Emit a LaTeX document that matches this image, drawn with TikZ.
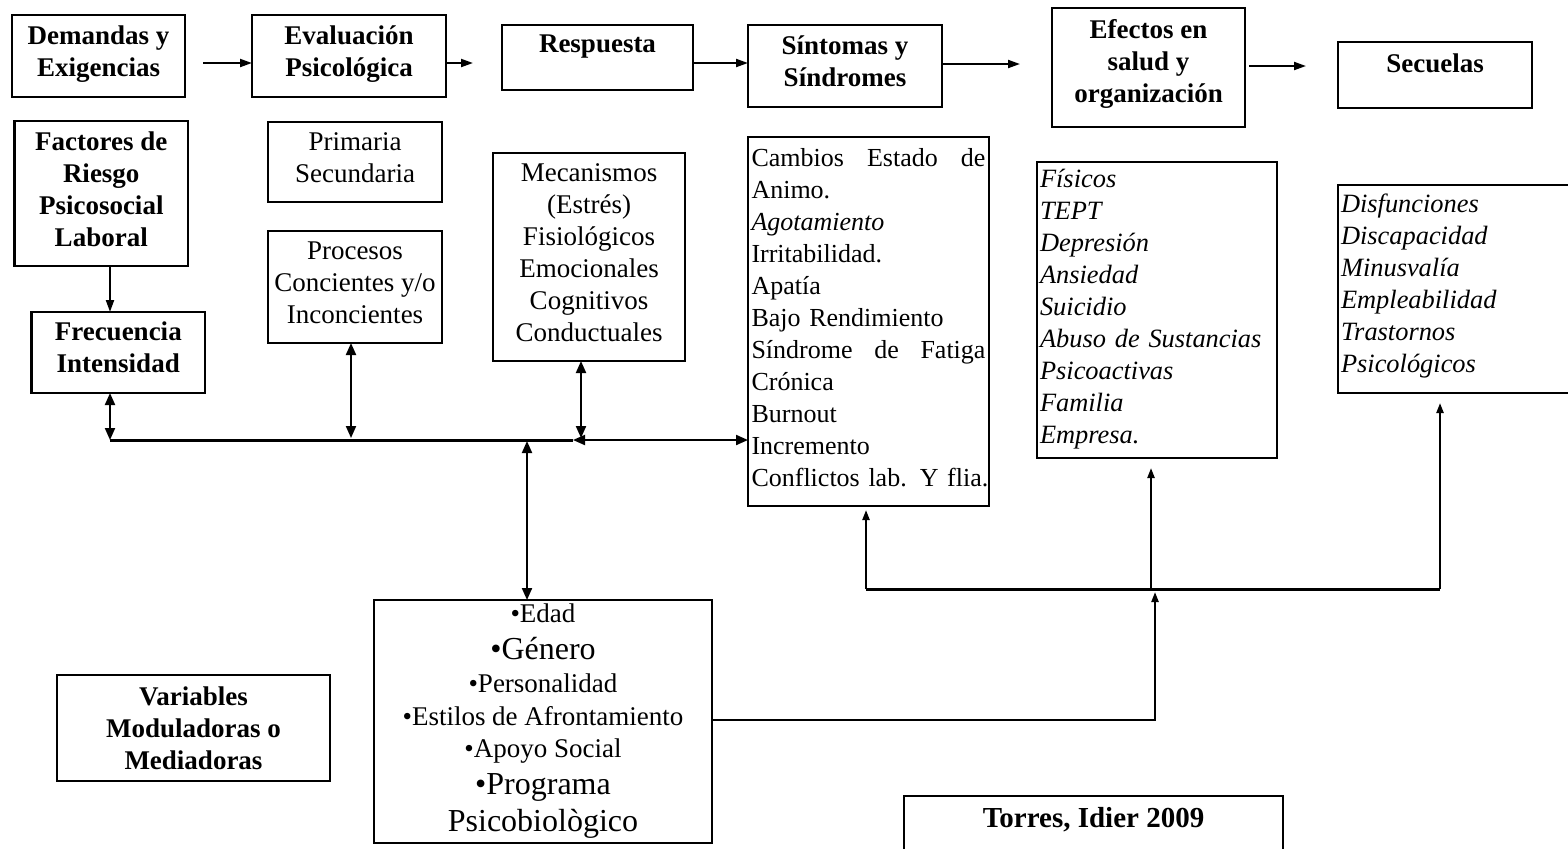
\documentclass[tikz,border=0pt]{standalone}
\usepackage{fontspec}
\setmainfont{Liberation Serif}
\usetikzlibrary{arrows.meta}
\begin{document}
\begin{tikzpicture}[x=0.5pt,y=-0.5pt,
  box/.style={draw, line width=1.3pt, inner sep=0pt, outer sep=0pt, anchor=north west},
  txt/.style={inner sep=0pt, align=center, font=\fontsize{13.5pt}{16pt}\selectfont},
  btxt/.style={txt, font=\fontsize{13.5pt}{16pt}\selectfont\bfseries},
  ltxt/.style={inner sep=0pt, align=left, font=\fontsize{13pt}{16pt}\selectfont},
  itxt/.style={ltxt, font=\fontsize{13.2pt}{16pt}\selectfont\itshape},
  arr/.style={line width=1pt, -{Triangle[length=6pt,width=4pt]}},
  dblarr/.style={line width=1pt, {Triangle[length=6pt,width=5pt]}-{Triangle[length=6pt,width=5pt]}},
  uparr/.style={line width=1.1pt, -{Triangle[length=5pt,width=3.5pt]}},
  busline/.style={line width=1.5pt},
]
\useasboundingbox (0,0) rectangle (1568,848);

% ---- main chain ----
\node[box, minimum width=86.5pt, minimum height=41pt,
  label={[btxt, anchor=center, yshift=-19.5pt]north:{Demandas y\\Exigencias}}] (dem) at (12,15) {};
\node[box, minimum width=97pt, minimum height=41pt,
  label={[btxt, anchor=center, yshift=-19.5pt]north:{Evaluación\\Psicológica}}] (eval) at (252,15) {};
\node[box, minimum width=95.5pt, minimum height=32.5pt,
  label={[btxt, anchor=center, yshift=-11pt]north:{Respuesta}}] (resp) at (502,25) {};
\node[box, minimum width=97pt, minimum height=41pt,
  label={[btxt, anchor=center, yshift=-18.25pt]north:{Síntomas y\\Síndromes}}] (sint) at (748,25) {};
\node[box, minimum width=96.5pt, minimum height=59.5pt,
  label={[btxt, anchor=center, yshift=-28pt]north:{Efectos en\\salud y\\organización}}] (eff) at (1052,8) {};
\node[box, minimum width=97pt, minimum height=33pt,
  label={[btxt, anchor=center, yshift=-10.5pt]north:{Secuelas}}] (sec) at (1338,42) {};

% ---- detail boxes ----
\node[box, minimum width=86.75pt, minimum height=72.5pt,
  label={[btxt, anchor=center, yshift=-34.25pt]north:{Factores de\\Riesgo\\Psicosocial\\Laboral}}] (fact) at (14.5,121) {};
\node[box, minimum width=86.75pt, minimum height=40.5pt,
  label={[btxt, anchor=center, yshift=-17.75pt]north:{Frecuencia\\Intensidad}}] (frec) at (31.5,312) {};
\node[box, minimum width=87pt, minimum height=40pt,
  label={[txt, anchor=center, yshift=-17.75pt]north:{Primaria\\Secundaria}}] (prim) at (268,122) {};
\node[box, minimum width=87pt, minimum height=56pt,
  label={[txt, anchor=center, yshift=-25.8pt]north:{Procesos\\Concientes y/o\\Inconcientes}}] (proc) at (268,231) {};
\node[box, minimum width=96pt, minimum height=104pt,
  label={[txt, anchor=center, yshift=-50pt]north:{Mecanismos\\(Estrés)\\Fisiológicos\\Emocionales\\Cognitivos\\Conductuales}}] (mec) at (493,153) {};

\node[box, minimum width=120.5pt, minimum height=184.5pt,
  label={[ltxt, text width=117pt, anchor=center, yshift=-90.25pt]north:{%
    Cambios\hfill Estado\hfill de\\
    Animo.\\
    \textit{Agotamiento}\\
    Irritabilidad.\\
    Apatía\\
    Bajo Rendimiento\\
    Síndrome\hfill de\hfill Fatiga\\
    Crónica\\
    Burnout\\
    Incremento\\
    \mbox{Conflictos lab. Y flia.}}}] (sintlist) at (748,137) {};
\node[box, minimum width=120pt, minimum height=148pt,
  label={[itxt, text width=117pt, anchor=center, yshift=-73.75pt]north:{%
    Físicos\\TEPT\\Depresión\\Ansiedad\\Suicidio\\Abuso de Sustancias\\Psicoactivas\\Familia\\Empresa.}}] (efflist) at (1037,162) {};
\node[box, minimum width=126pt, minimum height=104pt,
  label={[itxt, text width=123pt, anchor=center, yshift=-50.5pt]north:{%
    Disfunciones\\Discapacidad\\Minusvalía\\Empleabilidad\\Trastornos\\Psicológicos}}] (seclist) at (1338,185) {};

% ---- moderating variables ----
\node[box, minimum width=136.5pt, minimum height=53pt,
  label={[btxt, anchor=center, yshift=-26.7pt]north:{Variables\\Moduladoras o\\Mediadoras}}] (var) at (57,675) {};
\node[box, minimum width=169pt, minimum height=121.5pt,
  label={[txt, anchor=center, yshift=-60.75pt]north:{%
    \textbullet Edad\\[2.5pt]
    {\fontsize{16pt}{16pt}\selectfont\textbullet Género}\\[0.5pt]
    \textbullet Personalidad\\[0.5pt]
    \textbullet Estilos de Afrontamiento\\
    \textbullet Apoyo Social\\[2.5pt]
    {\fontsize{16pt}{16pt}\selectfont\textbullet Programa}\\[2.5pt]
    {\fontsize{16pt}{16pt}\selectfont Psicobiològico}}}] (edad) at (374,600) {};

\node[box, minimum width=189.5pt, minimum height=40pt,
  label={[btxt, font=\fontsize{14.5pt}{16pt}\selectfont\bfseries, anchor=center, yshift=-12pt]north:{Torres, Idier 2009}}] (torres) at (904,796) {};

% ---- connector end points ----
\coordinate (demout) at (203,63);
\coordinate (respin) at (473,63);
\coordinate (rowA)   at (0,63);
\coordinate (rowB)   at (0,64);
\coordinate (effin)  at (1020,64);
\coordinate (effout) at (1249,66);
\coordinate (secin)  at (1306,66);
\coordinate (busL) at (110,440);
\coordinate (busR) at (573,440);
\coordinate (busP) at (351,438);
\coordinate (busM) at (581,438);
\coordinate (busE) at (527,441);
\coordinate (edadturn) at (1155,720);
\coordinate (edadtip)  at (1155,592);
\coordinate (botL) at (866,589);
\coordinate (botM) at (1151,589);
\coordinate (botR) at (1440,589);
\coordinate (sintin) at (866,510);
\coordinate (effdn)  at (1151,468);
\coordinate (secdn)  at (1440,403);

% ---- main chain arrows ----
\draw[arr] (demout) -- (eval.west |- demout);
\draw[arr] (eval.east |- respin) -- (respin);
\draw[arr] (resp.east |- rowA) -- (sint.west |- rowA);
\draw[arr] (sint.east |- rowB) -- (effin);
\draw[arr] (effout) -- (secin);

% ---- left bus ----
\draw[arr] (fact.south -| busL) -- (frec.north -| busL);
\draw[dblarr] (frec.south -| busL) -- (busL);
\draw[dblarr] (proc.south -| busP) -- (busP);
\draw[dblarr] (mec.south -| busM) -- (busM);
\draw[busline] (busL) -- (busR);
\draw[dblarr] (busR) -- (sintlist.west |- busR);
\draw[dblarr] (busE) -- (edad.north -| busE);

% ---- lower feedback lines ----
\draw[uparr] (edad.east |- edadturn) -- (edadturn) -- (edadtip);
\draw[busline] (botL) -- (botR);
\draw[uparr] (botL) -- (sintin);
\draw[uparr] (botM) -- (effdn);
\draw[uparr] (botR) -- (secdn);
\end{tikzpicture}
\end{document}
